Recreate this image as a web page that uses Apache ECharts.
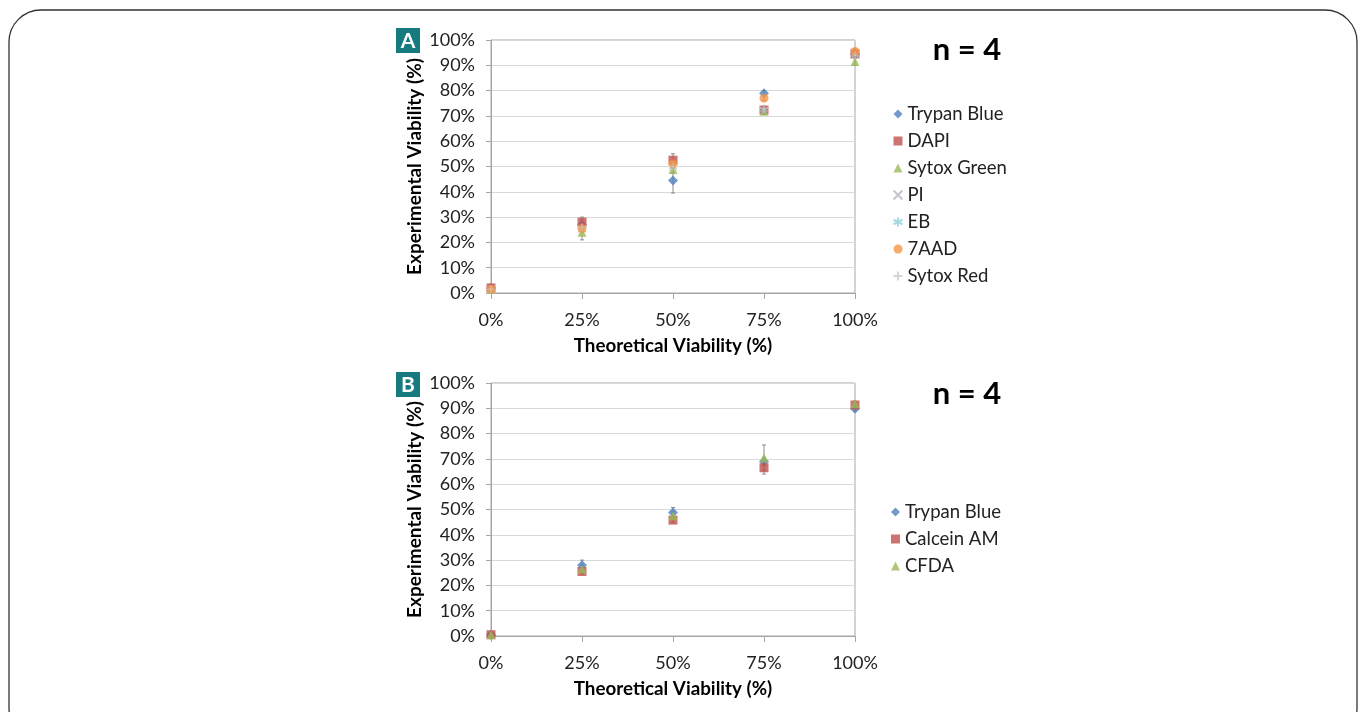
<!DOCTYPE html>
<html>
<head>
<meta charset="utf-8">
<script src="https://cdn.jsdelivr.net/npm/echarts@6/dist/echarts.min.js"></script>
<style>
html,body{margin:0;padding:0;background:#fff;}
#c{width:1366px;height:712px;}
</style>
</head>
<body>
<div id="c"></div>
<script>
// ---- data ----
const theoretical = [0, 25, 50, 75, 100];

// Panel A
const namesA = ['Trypan Blue', 'DAPI', 'Sytox Green', 'PI', 'EB', '7AAD', 'Sytox Red'];
const trypanA = [2, 27, 44.5, 79, 94.5];
const dapiA = [2, 28, 52.5, 72.3, 94.5];
const sytoxGreenA = [1.5, 24, 48.8, 71.8, 91.5];
const piA = [1.5, 25.5, 50, 72, 94];
const ebA = [1.5, 25, 50, 72.5, 94];
const aadA = [1.5, 25.5, 51, 77, 95.5];
const sytoxRedA = [1.5, 26, 50, 73, 94];
const trypanAErr = [1, 2, 5, 1, 1];
const dapiAErr = [1, 2, 2.5, 1.5, 1];
const sytoxGreenAErr = [1, 3, 1.5, 1, 1.5];
const aadAErr = [1, 1.5, 1.5, 1, 1];

// Panel B
const namesB = ['Trypan Blue', 'Calcein AM', 'CFDA'];
const trypanB = [0.5, 28, 48.8, 69, 89.8];
const calceinB = [0.5, 25.5, 45.8, 66.5, 91.3];
const cfdaB = [0.5, 26.5, 47.5, 70.5, 91.8];
const trypanBErr = [0.5, 2, 2, 1.5, 1];
const calceinBErr = [0.5, 1, 1, 2.5, 1];
const cfdaBErr = [0.5, 1.5, 1.5, 5, 1];

// ---- styles ----
const FONT = 'Lato';
const colors = {
  blue: '#4F81BD', red: '#C0504D', green: '#9BBB59', pi: '#B7B7C7',
  eb: '#8FD0DD', orange: '#F79646', sred: '#C8C8C8'
};
const pts = arr => theoretical.map((x, i) => [x, arr[i]]);
const errPts = (arr, err) => theoretical.map((x, i) => [x, arr[i], err[i]]);

function errorSeries(idx, data) {
  return {
    type: 'custom', xAxisIndex: idx, yAxisIndex: idx, silent: true, z: 1,
    data: data,
    renderItem: function (params, api) {
      const x = api.value(0), y = api.value(1), e = api.value(2);
      const lo = api.coord([x, y - e]), hi = api.coord([x, y + e]);
      const st = { stroke: '#8C8C8C', lineWidth: 1 };
      return { type: 'group', children: [
        { type: 'line', shape: { x1: lo[0], y1: lo[1], x2: hi[0], y2: hi[1] }, style: st },
        { type: 'line', shape: { x1: lo[0]-2, y1: lo[1], x2: lo[0]+2, y2: lo[1] }, style: st },
        { type: 'line', shape: { x1: hi[0]-2, y1: hi[1], x2: hi[0]+2, y2: hi[1] }, style: st }
      ]};
    }
  };
}

const X_PATH = 'path://M0,0L10,10M10,0L0,10';
const AST_PATH = 'path://M5,0L5,10M0,2.5L10,7.5M10,2.5L0,7.5';
const PLUS_PATH = 'path://M5,0L5,10M0,5L10,5';

function scat(idx, name, data, symbol, size, color, stroke) {
  return {
    type: 'scatter', name: name, xAxisIndex: idx, yAxisIndex: idx, data: data,
    symbol: symbol, symbolSize: size, z: 3,
    itemStyle: stroke ? { color: 'none', borderColor: color, borderWidth: 1 } : { color: color }
  };
}

function xAxisCfg(gi) {
  return {
    type: 'value', gridIndex: gi, min: 0, max: 100, interval: 25,
    name: 'Theoretical Viability (%)', nameLocation: 'middle', nameGap: 43,
    nameTextStyle: { fontFamily: FONT, fontSize: 18.8, fontWeight: 'bold', color: '#000' },
    axisLine: { show: true, lineStyle: { color: '#A6A6A6', width: 1 } },
    axisTick: { show: true, length: 6, inside: false, lineStyle: { color: '#A6A6A6' } },
    axisLabel: { fontFamily: FONT, fontSize: 18, color: '#222', margin: 18, formatter: '{value}%' },
    splitLine: { show: false }
  };
}
function yAxisCfg(gi) {
  return {
    type: 'value', gridIndex: gi, min: 0, max: 100, interval: 10,
    name: 'Experimental Viability (%)', nameLocation: 'middle', nameGap: 67, nameRotate: 90,
    nameTextStyle: { fontFamily: FONT, fontSize: 19, fontWeight: 'bold', color: '#000' },
    axisLine: { show: true, lineStyle: { color: '#A6A6A6', width: 1 } },
    axisTick: { show: true, length: 5, inside: false, lineStyle: { color: '#A6A6A6' } },
    axisLabel: { fontFamily: FONT, fontSize: 18, color: '#222', margin: 16, formatter: '{value}%' },
    splitLine: { show: true, lineStyle: { color: '#D9D9D9', width: 1 } }
  };
}

const legendBase = {
  orient: 'vertical', left: 886, itemWidth: 9, itemHeight: 9, itemGap: 7,
  textStyle: { fontFamily: FONT, fontSize: 18.5, color: '#222', lineHeight: 20 },
  selectedMode: false
};

const chart = echarts.init(document.getElementById('c'));
chart.setOption({
  backgroundColor: '#fff',
  animation: false,
  grid: [
    { left: 491, top: 40, width: 364, height: 253, show: true, borderColor: '#A6A6A6', borderWidth: 1, backgroundColor: 'transparent' },
    { left: 491, top: 383, width: 364, height: 253, show: true, borderColor: '#A6A6A6', borderWidth: 1, backgroundColor: 'transparent' }
  ],
  xAxis: [xAxisCfg(0), xAxisCfg(1)],
  yAxis: [yAxisCfg(0), yAxisCfg(1)],
  legend: [
    Object.assign({}, legendBase, { top: 99, data: namesA }),
    Object.assign({}, legendBase, { top: 497, data: namesB.map(n => ({ name: n })) })
  ],
  graphic: [
    { type: 'rect', shape: { x: 9, y: 10, width: 1348, height: 730, r: 32 }, style: { fill: 'none', stroke: '#333', lineWidth: 1.3 }, silent: true, z: -10 },
    { type: 'rect', shape: { x: 396, y: 28, width: 24, height: 25 }, style: { fill: '#177A7E' } },
    { type: 'text', x: 408, y: 41, style: { text: 'A', fontFamily: FONT, fontSize: 21, fontWeight: 'bold', fill: '#fff', align: 'center', verticalAlign: 'middle' } },
    { type: 'rect', shape: { x: 396, y: 372, width: 24, height: 25 }, style: { fill: '#177A7E' } },
    { type: 'text', x: 408, y: 385, style: { text: 'B', fontFamily: FONT, fontSize: 21, fontWeight: 'bold', fill: '#fff', align: 'center', verticalAlign: 'middle' } },
    { type: 'text', x: 967, y: 50, style: { text: 'n = 4', fontFamily: FONT, fontSize: 31, fontWeight: 'bold', fill: '#000', align: 'center', verticalAlign: 'middle' } },
    { type: 'text', x: 967, y: 394, style: { text: 'n = 4', fontFamily: FONT, fontSize: 31, fontWeight: 'bold', fill: '#000', align: 'center', verticalAlign: 'middle' } }
  ],
  series: [
    errorSeries(0, errPts(trypanA, trypanAErr)),
    errorSeries(0, errPts(dapiA, dapiAErr)),
    errorSeries(0, errPts(sytoxGreenA, sytoxGreenAErr)),
    errorSeries(0, errPts(aadA, aadAErr)),
    scat(0, namesA[0], pts(trypanA), 'diamond', 10, colors.blue),
    scat(0, namesA[1], pts(dapiA), 'rect', 9, colors.red),
    scat(0, namesA[2], pts(sytoxGreenA), 'triangle', 9, colors.green),
    scat(0, namesA[3], pts(piA), X_PATH, 8, colors.pi, true),
    scat(0, namesA[4], pts(ebA), AST_PATH, 8, colors.eb, true),
    scat(0, namesA[5], pts(aadA), 'circle', 9, colors.orange),
    scat(0, namesA[6], pts(sytoxRedA), PLUS_PATH, 8, colors.sred, true),
    errorSeries(1, errPts(trypanB, trypanBErr)),
    errorSeries(1, errPts(calceinB, calceinBErr)),
    errorSeries(1, errPts(cfdaB, cfdaBErr)),
    scat(1, namesB[0], pts(trypanB), 'diamond', 10, colors.blue),
    scat(1, namesB[1], pts(calceinB), 'rect', 9, colors.red),
    scat(1, namesB[2], pts(cfdaB), 'triangle', 9, colors.green)
  ]
});
</script>
</body>
</html>
